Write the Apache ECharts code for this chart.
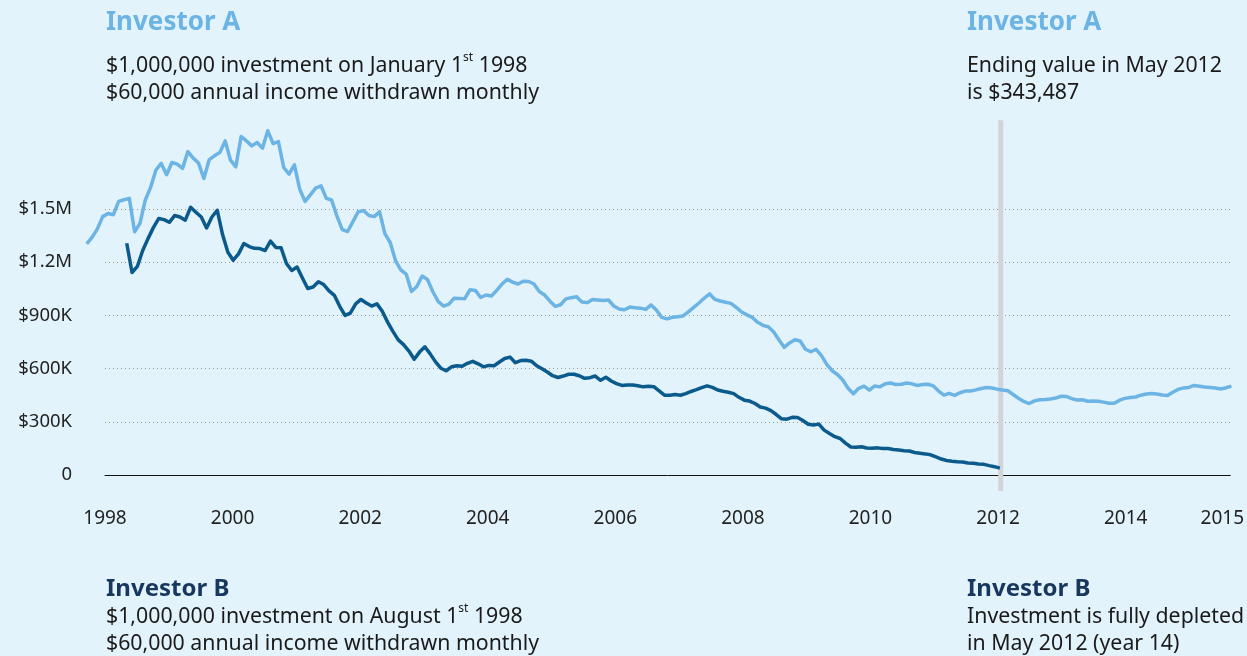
<!DOCTYPE html>
<html>
<head>
<meta charset="utf-8">
<script src="https://cdn.jsdelivr.net/npm/echarts@6/dist/echarts.min.js"></script>
<style>
  html, body { margin: 0; padding: 0; background: #e3f3fc; }
  #chart { width: 1247px; height: 656px; }
</style>
</head>
<body>
<div id="chart"></div>
<script>
// monthly portfolio values, in thousands of dollars
// Investor A: first month drawn at axis position aStart (Jan 1998)
const aStart = 1997.714
const investorA = [
  1303, 1340, 1388, 1457, 1475, 1468, 1543, 1552, 1560, 1372, 1419, 1551,
  1622, 1720, 1757, 1693, 1762, 1753, 1729, 1824, 1787, 1759, 1672, 1778,
  1800, 1819, 1884, 1776, 1738, 1909, 1884, 1856, 1875, 1843, 1941, 1869,
  1880, 1734, 1697, 1749, 1613, 1543, 1580, 1618, 1631, 1560, 1551, 1460,
  1384, 1373, 1429, 1485, 1491, 1463, 1457, 1485, 1361, 1311, 1209, 1156,
  1133, 1035, 1063, 1122, 1102, 1035, 979, 953, 962, 997, 996, 994,
  1045, 1041, 1001, 1015, 1009, 1041, 1077, 1103, 1088, 1077, 1093, 1091,
  1077, 1035, 1015, 980, 951, 960, 993, 1000, 1005, 975, 972, 990,
  987, 984, 987, 953, 936, 932, 947, 943, 941, 934, 959, 930,
  889, 880, 889, 893, 897, 920, 945, 970, 998, 1021, 990, 981,
  974, 968, 945, 919, 903, 889, 861, 844, 836, 808, 763, 720,
  745, 763, 756, 709, 695, 709, 673, 624, 588, 567, 536, 489,
  458, 489, 501, 479, 502, 497, 515, 519, 510, 512, 519, 514,
  505, 510, 512, 503, 473, 450, 460, 449, 464, 473, 474, 480,
  488, 493, 491, 484, 479, 475, 454, 433, 415, 403, 418, 424,
  426, 429, 434, 444, 443, 431, 423, 424, 416, 417, 416, 411,
  405, 404, 422, 432, 437, 440, 450, 457, 459, 457, 451, 448,
  467, 483, 491, 494, 505, 501, 496, 494, 491, 485, 492, 501
]
// Investor B: starts Aug 1998
const bStart = 1998.34
const investorB = [
  1307, 1142, 1176, 1266, 1333, 1395, 1446, 1440, 1425, 1463, 1455, 1437,
  1510, 1482, 1455, 1393, 1455, 1493, 1356, 1256, 1211, 1247, 1305, 1288,
  1278, 1277, 1266, 1319, 1283, 1281, 1193, 1153, 1173, 1111, 1052, 1060,
  1090, 1074, 1038, 1013, 951, 900, 913, 965, 990, 970, 953, 965,
  923, 862, 810, 762, 735, 699, 653, 693, 723, 683, 638, 602,
  588, 610, 616, 613, 630, 641, 627, 610, 618, 616, 637, 657,
  665, 633, 645, 647, 642, 616, 599, 581, 560, 550, 558, 568,
  568, 560, 545, 549, 558, 534, 551, 530, 515, 505, 507, 508,
  503, 497, 500, 498, 474, 450, 450, 454, 450, 459, 471, 481,
  493, 503, 494, 479, 472, 467, 459, 438, 422, 417, 403, 383,
  377, 363, 341, 317, 315, 325, 324, 307, 286, 282, 287, 253,
  234, 216, 206, 180, 158, 156, 159, 152, 151, 153, 150, 149,
  144, 141, 137, 135, 127, 123, 119, 114, 102, 90, 82, 78,
  75, 73, 68, 66, 62, 60, 53, 47, 39
]
// depletion marker (May 2012)
const markerX = 2012.02
const markerSpan = [-90, 2000]

const yearMin = 1998
const yearMax = 2015.64
const valueMax = 1500

const colorA = '#6cb4e4'
const colorB = '#0b5a8c'
const font = '"Noto Sans", sans-serif'

// pixel layout of the plot; the data grid is widened to the left so the
// first months of Investor A (before the 1998 tick) stay inside its x range
const plotLeft = 105
const plotRight = 15
const pxPerYear = (1247 - plotLeft - plotRight) / (yearMax - yearMin)
const dataLeft = plotLeft - (yearMin - aStart) * pxPerYear

const toPoints = (start, values) => values.map((v, i) => [start + i / 12, v])

const chart = echarts.init(document.getElementById('chart'))

const bodyRich = {
  sup: { fontSize: 12, fontFamily: font, color: '#1a1a1a', verticalAlign: 'top', lineHeight: 22 }
}
const bodyFont = '21.3px ' + font

chart.setOption({
  backgroundColor: '#e3f3fc',
  animation: false,
  textStyle: { fontFamily: font },
  grid: [
    { left: plotLeft, right: plotRight, top: 209, bottom: 181 },
    { left: dataLeft, right: plotRight, top: 209, bottom: 181 }
  ],
  xAxis: [
    {
      type: 'value',
      gridIndex: 0,
      min: yearMin,
      max: yearMax,
      interval: 2,
      axisLine: { lineStyle: { color: '#111', width: 1 } },
      axisTick: { show: false },
      splitLine: { show: false },
      axisLabel: {
        margin: 34,
        fontSize: 19,
        color: '#222',
        fontFamily: font,
        showMaxLabel: true,
        formatter: v => v > 2014.5 ? '{e|2015}' : String(v),
        rich: {
          e: { fontSize: 19, color: '#222', fontFamily: font, padding: [0, 16, 0, 0] }
        }
      }
    },
    {
      type: 'value',
      gridIndex: 1,
      min: aStart,
      max: yearMax,
      show: false
    }
  ],
  yAxis: [
    {
      type: 'value',
      gridIndex: 0,
      min: 0,
      max: valueMax,
      interval: 300,
      axisLine: { show: false },
      axisTick: { show: false },
      splitLine: { lineStyle: { color: '#9a9a9a', type: [1, 3], width: 1 } },
      axisLabel: {
        margin: 33,
        fontSize: 18.5,
        color: '#222',
        fontFamily: font,
        formatter: v => v === 0 ? '0' : (v >= 1000 ? '$' + (v / 1000) + 'M' : '$' + v + 'K')
      }
    },
    {
      type: 'value',
      gridIndex: 1,
      min: 0,
      max: valueMax,
      show: false,
      splitLine: { show: false }
    }
  ],
  graphic: [
    { type: 'text', x: 106, y: 23, style: { text: 'Investor A', font: 'bold 26px ' + font, fill: colorA, verticalAlign: 'middle' } },
    { type: 'text', x: 106, y: 79, style: {
      text: '$1,000,000 investment on January 1{sup|st} 1998\n$60,000 annual income withdrawn monthly',
      font: bodyFont, fill: '#1a1a1a', lineHeight: 27, verticalAlign: 'middle', rich: bodyRich } },
    { type: 'text', x: 967, y: 23, style: { text: 'Investor A', font: 'bold 26px ' + font, fill: colorA, verticalAlign: 'middle' } },
    { type: 'text', x: 967, y: 79, style: {
      text: 'Ending value in May 2012\nis $343,487',
      font: bodyFont, fill: '#1a1a1a', lineHeight: 27, verticalAlign: 'middle' } },
    { type: 'text', x: 106, y: 589, style: { text: 'Investor B', font: 'bold 24px ' + font, fill: '#17375e', verticalAlign: 'middle' } },
    { type: 'text', x: 106, y: 630, style: {
      text: '$1,000,000 investment on August 1{sup|st} 1998\n$60,000 annual income withdrawn monthly',
      font: bodyFont, fill: '#1a1a1a', lineHeight: 27, verticalAlign: 'middle', rich: bodyRich } },
    { type: 'text', x: 967, y: 589, style: { text: 'Investor B', font: 'bold 24px ' + font, fill: '#17375e', verticalAlign: 'middle' } },
    { type: 'text', x: 967, y: 630, style: {
      text: 'Investment is fully depleted\nin May 2012 (year 14)',
      font: bodyFont, fill: '#1a1a1a', lineHeight: 27, verticalAlign: 'middle' } }
  ],
  series: [
    {
      name: 'marker',
      type: 'line',
      xAxisIndex: 1,
      yAxisIndex: 1,
      clip: false,
      silent: true,
      showSymbol: false,
      z: 1,
      lineStyle: { color: '#d2d5d8', width: 5 },
      data: markerSpan.map(v => [markerX, v])
    },
    {
      name: 'Investor A',
      type: 'line',
      xAxisIndex: 1,
      yAxisIndex: 1,
      clip: false,
      showSymbol: false,
      z: 3,
      lineStyle: { color: colorA, width: 3.5, join: 'round' },
      data: toPoints(aStart, investorA)
    },
    {
      name: 'Investor B',
      type: 'line',
      xAxisIndex: 1,
      yAxisIndex: 1,
      clip: false,
      showSymbol: false,
      z: 4,
      lineStyle: { color: colorB, width: 3.5, join: 'round' },
      data: toPoints(bStart, investorB)
    }
  ]
})
</script>
</body>
</html>
